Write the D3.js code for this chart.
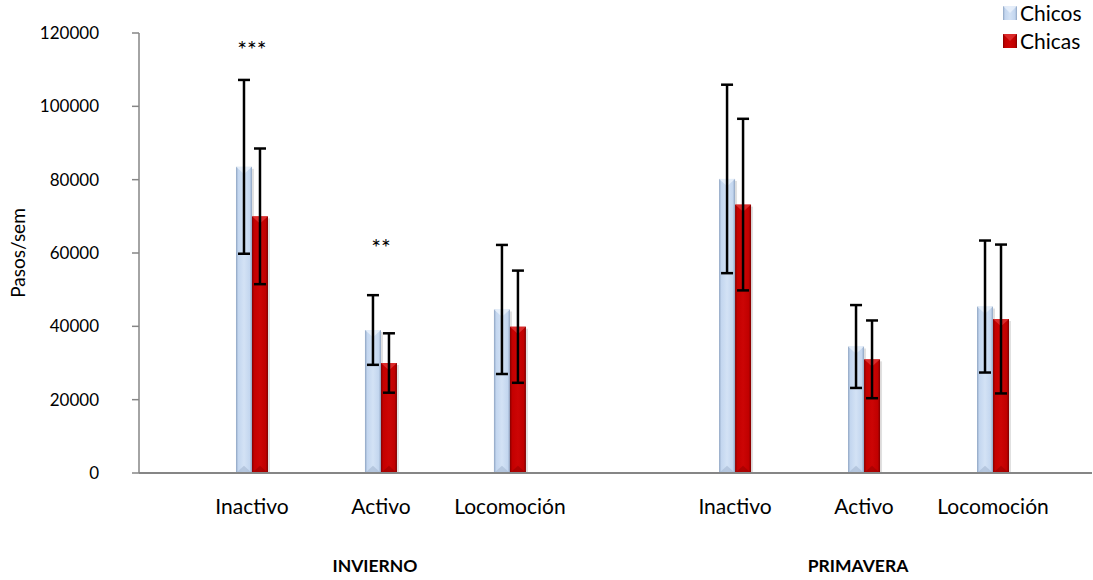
<!DOCTYPE html>
<html>
<head>
<meta charset="utf-8">
<script src="https://cdn.jsdelivr.net/npm/d3@7"></script>
<style>
  html, body { margin: 0; padding: 0; background: #ffffff; }
  svg { display: block; font-family: "Lato", "Open Sans", sans-serif; }
</style>
</head>
<body>
<svg id="chart" width="1093" height="580"></svg>
<script>
// Weekly step counts by activity type, season and sex (mean ± SD)
const seasons = ["INVIERNO", "PRIMAVERA"];
const categories = ["Inactivo", "Activo", "Locomoción"];
const seriesNames = ["Chicos", "Chicas"];

// values ordered: INVIERNO (Inactivo, Activo, Locomoción), PRIMAVERA (same)
const chicos    = [83500, 39000, 44600, 80200, 34500, 45400];
const chicosErr = [23700,  9500, 17600, 25700, 11300, 18000];
const chicas    = [70000, 30000, 39900, 73200, 31000, 42000];
const chicasErr = [18500,  8100, 15300, 23400, 10600, 20300];

// significance markers over each category pair, and the level (steps/week) they sit at
const significance = ["***", "**", "", "", "", ""];
const significanceLevel = [116500, 62500, 0, 0, 0, 0];

const yTicks = [0, 20000, 40000, 60000, 80000, 100000, 120000];

const svg = d3.select("#chart");

const y = d3.scaleLinear().domain([0, 120000]).range([473, 33]);

const xSeason = d3.scaleBand()
  .domain(seasons)
  .range([187.5, 1057.5])
  .paddingInner(0.199)
  .paddingOuter(0);

const xCat = d3.scaleBand()
  .domain(categories)
  .range([0, xSeason.bandwidth()]);

const xSeries = d3.scaleBand()
  .domain(seriesNames)
  .range([-16, 16]);

// flat records
const records = [];
seasons.forEach((s, si) => {
  categories.forEach((c, ci) => {
    const i = si * categories.length + ci;
    const cx = xSeason(s) + xCat(c) + xCat.bandwidth() / 2;
    records.push({ season: s, cat: c, i, cx,
      values: [
        { name: "Chicos", v: chicos[i], e: chicosErr[i] },
        { name: "Chicas", v: chicas[i], e: chicasErr[i] }
      ],
      sig: significance[i], sigLevel: significanceLevel[i] });
  });
});

// gradients
const defs = svg.append("defs");
function hGrad(id, stops) {
  const g = defs.append("linearGradient").attr("id", id)
    .attr("x1", "0%").attr("x2", "100%").attr("y1", "0%").attr("y2", "0%");
  stops.forEach(([o, c]) => g.append("stop").attr("offset", o).attr("stop-color", c));
}
hGrad("gBlue", [["0%", "#8ea4c2"], ["14%", "#c3d6ef"], ["50%", "#d3e2f5"], ["86%", "#c3d6ef"], ["100%", "#8ea4c2"]]);
hGrad("gRed",  [["0%", "#850000"], ["14%", "#c40000"], ["50%", "#cc0505"], ["86%", "#c00000"], ["100%", "#7d0000"]]);

const fills = { Chicos: "url(#gBlue)", Chicas: "url(#gRed)" };
const topBevel = { Chicos: "#eef4fc", Chicas: "#e23a3a" };
const botBevel = { Chicos: "#a9bcd6", Chicas: "#a00000" };

// y axis
const yAxisG = svg.append("g").attr("transform", "translate(139,0)");
yAxisG.append("line").attr("x1", 0).attr("x2", 0).attr("y1", y(120000)).attr("y2", y(0))
  .attr("stroke", "#868686").attr("stroke-width", 1.5);
yAxisG.selectAll("line.tick").data(yTicks).join("line").attr("class", "tick")
  .attr("x1", -7).attr("x2", 0).attr("y1", d => y(d)).attr("y2", d => y(d))
  .attr("stroke", "#868686").attr("stroke-width", 1.5);
svg.append("g").selectAll("text").data(yTicks).join("text")
  .attr("x", 99).attr("y", d => y(d)).attr("dy", "0.36em")
  .attr("text-anchor", "end").attr("font-size", 17).attr("fill", "#000")
  .text(d => d3.format("d")(d));

svg.append("text")
  .attr("transform", "translate(18,253) rotate(-90)")
  .attr("dy", "0.35em")
  .attr("text-anchor", "middle").attr("font-size", 19).attr("fill", "#000")
  .text("Pasos/sem");

// bars
const barG = svg.append("g");
records.forEach(r => {
  r.values.forEach(d => {
    const x0 = r.cx + xSeries(d.name);
    const w = xSeries.bandwidth();
    const top = y(d.v), bot = y(0);
    barG.append("rect").attr("x", x0 + 2).attr("y", top + 2)
      .attr("width", w).attr("height", bot - top - 2)
      .attr("fill", "#000").attr("opacity", 0.12);
    barG.append("rect").attr("x", x0).attr("y", top)
      .attr("width", w).attr("height", bot - top)
      .attr("fill", fills[d.name]);
    barG.append("polygon")
      .attr("points", [[x0, top], [x0 + w, top], [x0 + w / 2, top + w * 0.45]].map(p => p.join(",")).join(" "))
      .attr("fill", topBevel[d.name]).attr("opacity", 0.75);
    barG.append("polygon")
      .attr("points", [[x0, bot], [x0 + w, bot], [x0 + w / 2, bot - w * 0.45]].map(p => p.join(",")).join(" "))
      .attr("fill", botBevel[d.name]).attr("opacity", 0.7);
  });
});

// baseline
svg.append("line").attr("x1", 139).attr("x2", 1092).attr("y1", y(0)).attr("y2", y(0))
  .attr("stroke", "#868686").attr("stroke-width", 2);

// error bars
const errG = svg.append("g").attr("stroke", "#000").attr("stroke-width", 2.5);
records.forEach(r => {
  r.values.forEach(d => {
    const ex = r.cx + xSeries(d.name) + xSeries.bandwidth() / 2;
    errG.append("line").attr("x1", ex).attr("x2", ex)
      .attr("y1", y(d.v + d.e)).attr("y2", y(d.v - d.e));
    [d.v + d.e, d.v - d.e].forEach(v => {
      errG.append("line").attr("x1", ex - 6).attr("x2", ex + 6)
        .attr("y1", y(v)).attr("y2", y(v));
    });
  });
});

// significance markers
records.filter(r => r.sig).forEach(r => {
  svg.append("text")
    .attr("x", r.cx).attr("y", y(r.sigLevel) + 12)
    .attr("text-anchor", "middle").attr("font-size", 23).attr("fill", "#000")
    .text(r.sig);
});

// category labels
svg.append("g").selectAll("text").data(records).join("text")
  .attr("x", d => d.cx).attr("y", 507).attr("dy", "0.35em")
  .attr("text-anchor", "middle").attr("font-size", 21).attr("fill", "#000")
  .text(d => d.cat);

// season labels
svg.append("g").selectAll("text").data(seasons).join("text")
  .attr("x", d => xSeason(d) + xSeason.bandwidth() / 2 - 6)
  .attr("y", 566).attr("dy", "0.35em")
  .attr("text-anchor", "middle").attr("font-size", 17.5).attr("font-weight", "bold").attr("fill", "#000")
  .text(d => d);

// legend
const legend = svg.append("g");
seriesNames.forEach((n, i) => {
  const ly = 13 + i * 28;
  legend.append("rect").attr("x", 1003).attr("y", ly - 7).attr("width", 14).attr("height", 14)
    .attr("fill", fills[n]);
  legend.append("polygon")
    .attr("points", `1003,${ly - 7} 1017,${ly - 7} 1010,${ly}`)
    .attr("fill", topBevel[n]).attr("opacity", 0.7);
  legend.append("text").attr("x", 1020).attr("y", ly).attr("dy", "0.36em")
    .attr("font-size", 21).attr("fill", "#000").text(n);
});
</script>
</body>
</html>
